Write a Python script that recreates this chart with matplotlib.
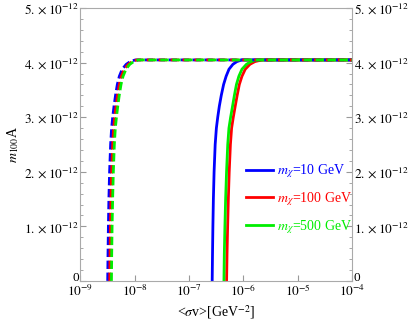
import matplotlib
matplotlib.use("Agg")
import matplotlib.pyplot as plt
import numpy as np

plt.rcParams['font.family'] = ['Liberation Serif', 'DejaVu Serif']
plt.rcParams['mathtext.fontset'] = 'stix'

# values: m_100 A (units of 1e-12) vs log10(<sigma v>)
y_pts = [0.0, 0.5, 1.0, 1.5, 2.0, 2.5, 2.8, 3.0, 3.2, 3.4, 3.6, 3.75, 3.88, 3.97, 4.02, 4.05, 4.05]

# dashed curves
logx_dash_10 = [-8.494, -8.488, -8.481, -8.472, -8.459, -8.440, -8.422, -8.402, -8.378, -8.350,
                -8.317, -8.280, -8.227, -8.153, -8.079, -7.987, -4.0]
logx_dash_100 = [-8.457, -8.451, -8.444, -8.435, -8.422, -8.403, -8.385, -8.365, -8.341, -8.313,
                 -8.280, -8.243, -8.190, -8.116, -8.042, -7.960, -4.0]
logx_dash_500 = [-8.425, -8.420, -8.413, -8.403, -8.390, -8.372, -8.354, -8.333, -8.309, -8.282,
                 -8.249, -8.212, -8.158, -8.088, -8.015, -7.932, -4.0]

# solid curves
logx_sol_10 = [-6.573, -6.567, -6.560, -6.551, -6.538, -6.518, -6.496, -6.471, -6.442, -6.406,
               -6.363, -6.317, -6.264, -6.192, -6.118, -6.026, -4.0]
logx_sol_100 = [-6.308, -6.300, -6.289, -6.276, -6.260, -6.238, -6.216, -6.185, -6.150, -6.114,
                -6.074, -6.026, -5.965, -5.879, -5.786, -5.658, -4.0]
logx_sol_500 = [-6.357, -6.350, -6.339, -6.326, -6.309, -6.287, -6.265, -6.234, -6.199, -6.165,
                -6.127, -6.083, -6.026, -5.943, -5.860, -5.750, -4.0]

labels = [r'$m_\chi$=10 GeV', r'$m_\chi$=100 GeV', r'$m_\chi$=500 GeV']
colors = ['#0000ff', '#ff0000', '#00ee00']

y_ticks = [0, 1, 2, 3, 4, 5]
y_ticklabels = ['0'] + [r'$%d.\times10^{-12}$' % k for k in y_ticks[1:]]
x_ticks = [-9, -8, -7, -6, -5, -4]

fig = plt.figure(figsize=(4.09, 3.24), dpi=100)
ax = fig.add_axes([0.196, 0.133, 0.665, 0.842])

y = np.array(y_pts) * 1e-12
lw = 2.0
for lx, c, lab in zip([logx_sol_10, logx_sol_100, logx_sol_500], colors, labels):
    ax.plot(10.0 ** np.array(lx), y, color=c, lw=lw, label=lab)
for lx, c in zip([logx_dash_10, logx_dash_100, logx_dash_500], colors):
    ax.plot(10.0 ** np.array(lx), y, color=c, lw=lw, dashes=(3.0, 1.3))

ax.set_xscale('log')
ax.set_xlim(1e-9, 1e-4)
ax.set_ylim(0, 5e-12)

ax.set_xticks([10.0 ** k for k in x_ticks])
ax.set_xticklabels([r'$10^{%d}$' % k for k in x_ticks])
ax.xaxis.set_minor_locator(matplotlib.ticker.NullLocator())
ax.set_yticks(np.array(y_ticks) * 1e-12)
ax.set_yticklabels(y_ticklabels)
ax.set_yticks(np.arange(0, 5.01, 0.2) * 1e-12, minor=True)

ax.tick_params(which='both', direction='in', color='#999999', labelsize=9.5,
               left=True, right=True, labelright=True, bottom=True, top=False)
ax.tick_params(which='major', length=4)
ax.tick_params(which='minor', length=2)
ax.tick_params(axis='x', pad=2)
ax.tick_params(axis='y', pad=1)
for s in ax.spines.values():
    s.set_color('#aaaaaa')

# lift the "0" labels a little, as in the original
t0 = ax.yaxis.get_major_ticks()[0]
t0.label1.set_va('baseline')
t0.label2.set_va('baseline')

ax.set_xlabel(r'<$\sigma$v>[GeV$^{-2}$]', fontsize=10, labelpad=3)
ax.set_ylabel(r'$m_{100}$A', fontsize=10, labelpad=2)

leg = ax.legend(loc='center right', bbox_to_anchor=(1.02, 0.30), frameon=False,
                fontsize=10, handlelength=1.9, handletextpad=0.3, labelspacing=0.72,
                borderaxespad=0.0)
for t, c in zip(leg.get_texts(), colors):
    t.set_color(c)

fig.savefig('out.png', dpi=100)
